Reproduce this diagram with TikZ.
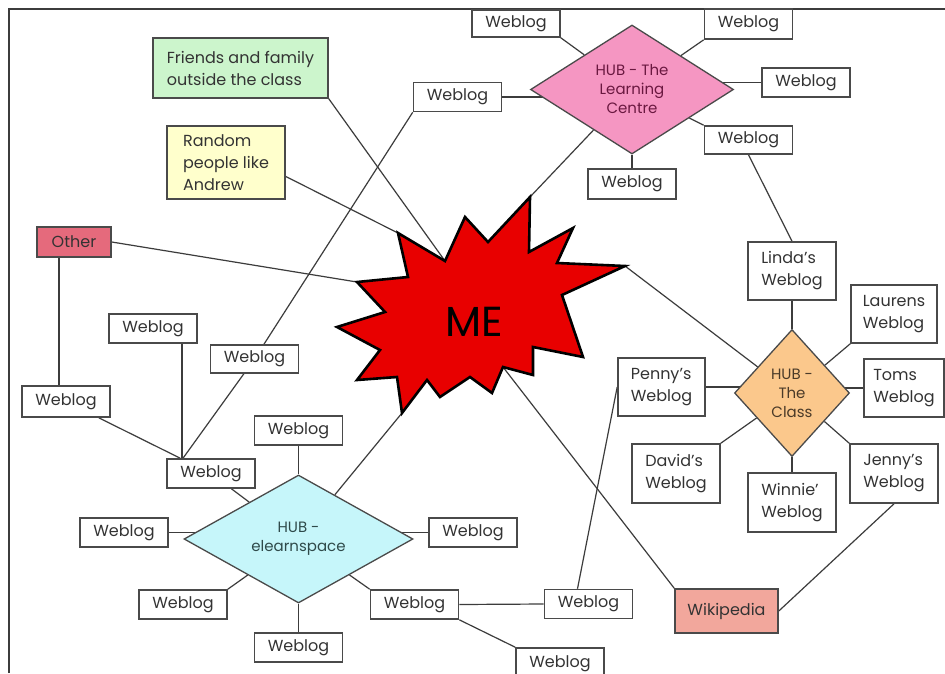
\documentclass[tikz,border=0pt]{standalone}
\usepackage{fontspec}
\setmainfont{Poppins}
\usetikzlibrary{shapes.geometric,backgrounds}

\definecolor{txt}{HTML}{333333}
\definecolor{boxline}{HTML}{4A4A4A}
\definecolor{linecol}{HTML}{3C3C3C}
\definecolor{friendsfill}{HTML}{CCF5CC}
\definecolor{randomfill}{HTML}{FFFFCC}
\definecolor{otherfill}{HTML}{E56A7C}
\definecolor{wikifill}{HTML}{F2A79C}
\definecolor{lcfill}{HTML}{F596C2}
\definecolor{lctext}{HTML}{6A1840}
\definecolor{classfill}{HTML}{FBC88C}
\definecolor{classtext}{HTML}{4A3A28}
\definecolor{elfill}{HTML}{C6F6FA}
\definecolor{eltext}{HTML}{2F4A4A}
\definecolor{starred}{HTML}{E80000}

\begin{document}
\begin{tikzpicture}[x=1pt,y=-1pt,
  every node/.style={font=\fontsize{16}{22}\selectfont, text=txt},
  wbox/.style={draw=boxline, line width=1.6pt, fill=white,
    minimum width=88pt, minimum height=29pt, inner sep=0pt, align=left},
  tallbox/.style={wbox, minimum height=58pt},
  hubshape/.style={diamond, draw=boxline, line width=1.3pt, inner sep=0pt,
    align=center, font=\fontsize{15}{19}\selectfont},
  link/.style={draw=linecol, line width=1.2pt},
  burst/.style={fill=starred, draw=black, line width=2.6pt, line join=miter}]

\useasboundingbox (0,0) rectangle (945,673);

% frame along the top and left
\draw[linecol, line width=1.2pt] (9,673) -- (9,9) -- (945,9);

% outer groups
\node[wbox, fill=friendsfill, minimum width=175pt, minimum height=60pt] (friends) at (240.5,68)
  {Friends and family\\outside the class};
\node[wbox, fill=randomfill, minimum width=118pt, minimum height=73pt] (random) at (226,162.5)
  {Random\\people like\\Andrew};
\node[wbox, fill=otherfill, minimum width=74pt, minimum height=30pt] (other) at (74,242) {Other};
\node[wbox, fill=wikifill, minimum width=103pt, minimum height=44pt] (wiki) at (726.5,611) {Wikipedia};

% hub: the learning centre
\node[hubshape, fill=lcfill, text=lctext, minimum width=203pt, minimum height=129pt] (lc) at (632,89.5)
  {HUB - The\\Learning\\Centre};
\node[wbox] (wl4)  at (457.5,97)  {Weblog};
\node[wbox, minimum height=27pt] (wl6) at (516,23.5) {Weblog};
\node[wbox, minimum height=30pt] (wl7) at (748.5,24) {Weblog};
\node[wbox] (wl8)  at (806,82.5)  {Weblog};
\node[wbox, minimum height=28pt] (wl9) at (748.5,140) {Weblog};
\node[wbox, minimum height=30pt] (wl10) at (632,184) {Weblog};

% hub: the class
\node[hubshape, fill=classfill, text=classtext, minimum width=115pt, minimum height=127pt] (hub) at (792,393)
  {HUB -\\The\\Class};
\node[tallbox] (linda)   at (792,271)   {Linda’s\\Weblog};
\node[tallbox, minimum width=86pt] (laurens) at (894,314) {Laurens\\Weblog};
\node[tallbox, minimum width=80pt] (toms) at (904,388) {Toms\\Weblog};
\node[tallbox, minimum width=87pt] (penny) at (661.5,387) {Penny’s\\Weblog};
\node[tallbox, minimum height=59pt] (david)  at (676,473.5) {David’s\\Weblog};
\node[tallbox, minimum height=59pt] (winnie) at (792,502.5) {Winnie’\\Weblog};
\node[tallbox, minimum height=59pt] (jenny)  at (894,473.5) {Jenny’s\\Weblog};

% hub: elearnspace
\node[hubshape, fill=elfill, text=eltext, minimum width=229pt, minimum height=128pt] (el) at (298.5,539)
  {HUB -\\elearnspace};
\node[wbox] (wl22) at (153,328.5) {Weblog};
\node[wbox, minimum height=28pt] (wl23) at (254.5,359) {Weblog};
\node[wbox, minimum height=31pt] (wl24) at (66,401.5) {Weblog};
\node[wbox] (wl25) at (211,473.5) {Weblog};
\node[wbox] (wl26) at (298.5,430.5) {Weblog};
\node[wbox] (wl28) at (124,532.5) {Weblog};
\node[wbox] (wl29) at (473,532.5) {Weblog};
\node[wbox] (wl30) at (183,604.5) {Weblog};
\node[wbox] (wl31) at (298.5,647.5) {Weblog};
\node[wbox] (wl32) at (414.5,604.5) {Weblog};
\node[wbox] (wl20) at (588.5,604) {Weblog};
\node[wbox, minimum height=32pt] (wl21) at (560,664) {Weblog};

% outline points of the burst
\coordinate (s1) at (398,233);  \coordinate (s2) at (445,261);
\coordinate (s3) at (465,217);  \coordinate (s4) at (488,242);
\coordinate (s5) at (530,197);  \coordinate (s6) at (529,252);
\coordinate (s7) at (573,228);  \coordinate (s8) at (557,263);
\coordinate (s9) at (625,266);  \coordinate (s10) at (562,295);
\coordinate (s11) at (583,357); \coordinate (s12) at (533,347);
\coordinate (s13) at (533,375); \coordinate (s14) at (503,367);
\coordinate (s15) at (492,393); \coordinate (s16) at (470,377);
\coordinate (s17) at (440,397); \coordinate (s18) at (427,380);
\coordinate (s19) at (402,413); \coordinate (s20) at (397,377);
\coordinate (s21) at (357,380); \coordinate (s22) at (380,350);
\coordinate (s23) at (337,327); \coordinate (s24) at (385,312);
\coordinate (s25) at (357,282); \coordinate (s26) at (408,277);

\draw[burst] (s1) -- (s2) -- (s3) -- (s4) -- (s5) -- (s6) -- (s7) -- (s8) -- (s9)
  -- (s10) -- (s11) -- (s12) -- (s13) -- (s14) -- (s15) -- (s16) -- (s17) -- (s18)
  -- (s19) -- (s20) -- (s21) -- (s22) -- (s23) -- (s24) -- (s25) -- (s26) -- cycle;
\node[font=\fontsize{42}{42}\selectfont, text=black] (me) at (474,322) {ME};

\begin{scope}[on background layer]
  \fill[white] (0,0) rectangle (945,673);
  % links into the burst
  \draw[link] (friends.south east) -- (s2);
  \draw[link] ([yshift=-14pt]random.east) -- (s1);
  \draw[link] (other.east) -- (s25);
  \draw[link] (lc) -- (s5);
  \draw[link] (hub) -- (s9);
  \draw[link] (wiki.north west) -- (s14);
  \draw[link] (el) -- (s19);

  % learning centre spokes
  \draw[link] (wl4.east) -- (wl4.east -| lc.center);
  \draw[link] (wl8.west) -- (wl8.west -| lc.center);
  \draw[link] (wl6.south east) -- (lc);
  \draw[link] (wl7.south west) -- (lc);
  \draw[link] (wl9.north west) -- (lc);
  \draw[link] (wl10) -- (lc);
  \draw[link] (wl9.south) -- (linda.north);

  % class spokes
  \draw[link] (linda) -- (hub);
  \draw[link] (winnie) -- (hub);
  \draw[link] (toms.west) -- (toms.west -| hub.center);
  \draw[link] (penny.east) -- (penny.east -| hub.center);
  \draw[link] (laurens.south west) -- (hub);
  \draw[link] (david.north east) -- (hub);
  \draw[link] (jenny.north west) -- (hub);
  \draw[link] (jenny.south) -- (wiki.east);
  \draw[link] (penny.west) -- ([xshift=-11pt]wl20.north);

  % elearnspace spokes
  \draw[link] (wl26) -- (el);
  \draw[link] (wl31) -- (el);
  \draw[link] (wl28.east) -- (wl28.east -| el.center);
  \draw[link] (wl29.west) -- (wl29.west -| el.center);
  \draw[link] (wl30.north east) -- (el);
  \draw[link] (wl32.north west) -- (el);
  \draw[link] (wl25) -- (el);
  \draw[link] (wl20.west) -- (wl32.east);
  \draw[link] (wl32.south east) -- (wl21.north west);

  % left-hand cluster
  \draw[link] (wl24) -- (wl25);
  \draw[link] ([xshift=29pt]wl22.south) -- ([xshift=-29pt]wl25.north);
  \draw[link] (wl4.south west) -- (wl23);
  \draw[link] (wl23) -- ([xshift=-28pt]wl25.north);
  \draw[link] ([xshift=-15pt]other.south) -- ([xshift=-7pt]wl24.north);
\end{scope}
\end{tikzpicture}
\end{document}
